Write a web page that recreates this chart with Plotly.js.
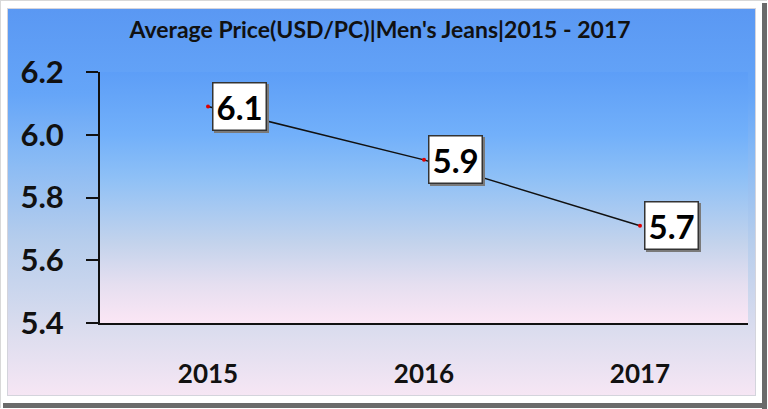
<!DOCTYPE html>
<html>
<head>
<meta charset="utf-8">
<script src="https://cdn.plot.ly/plotly-3.0.1.min.js"></script>
<style>
  html, body { margin:0; padding:0; background:#fff; }
  #wrap { position:absolute; left:0; top:0; width:768px; height:409px; overflow:hidden; background:#fff; }
  #edge { position:absolute; left:0; top:0; width:767px; height:408px; border-left:1px solid #d8d8d8; border-top:1px solid #d8d8d8; box-sizing:border-box; }
  #shadowR { position:absolute; left:762px; top:3px; width:5px; height:406px; background:#6a6a6a; }
  #shadowB { position:absolute; left:3px; top:403px; width:764px; height:5px; background:#6a6a6a; }
  #outer { position:absolute; left:7px; top:8px; width:749px; height:388px; box-sizing:border-box; border:1px solid #d4d4dc;
    background:linear-gradient(to bottom, #5a98f3 0%, #65a5f8 22%, #86b9f5 38%, #b6cdec 60%, #d9dcee 82%, #f6e6f4 100%); }
  #inner { position:absolute; background:linear-gradient(to bottom, #5d9ef7 0%, #72b0fa 25%, #8ec0f6 42%, #c3d3ec 68%, #e6dff0 85%, #fbe6f5 100%); }
  #chart { position:absolute; left:0; top:0; width:768px; height:409px; }
  .annotation rect.bg { filter: drop-shadow(2px 2px 0px #7a7a7a); }
</style>
</head>
<body>
<div id="wrap">
  <div id="edge"></div>
  <div id="shadowR"></div>
  <div id="shadowB"></div>
  <div id="outer"></div>
  <div id="inner"></div>
  <div id="chart"></div>
</div>
<script>
const years = ['2015', '2016', '2017'];
const prices = [6.09, 5.92, 5.71];
const priceLabels = ['6.1', '5.9', '5.7'];
const yTicks = [5.4, 5.6, 5.8, 6.0, 6.2];
const titleText = "Average Price(USD/PC)|Men's Jeans|2015 - 2017";

const FONT = 'Lato, "Open Sans", sans-serif';
const margin = { l: 100, r: 20, t: 72, b: 86, pad: 0 };

const inner = document.getElementById('inner');
inner.style.left = margin.l + 'px';
inner.style.top = margin.t + 'px';
inner.style.width = (768 - margin.l - margin.r) + 'px';
inner.style.height = (409 - margin.t - margin.b) + 'px';

const trace = {
  type: 'scatter',
  mode: 'lines+markers',
  x: years,
  y: prices,
  line: { color: '#111111', width: 1.5 },
  marker: { color: '#e00000', size: 4 },
  hoverinfo: 'skip',
  showlegend: false
};

// category axis: annotation x is the category's serial index
const annotations = years.map((yr, i) => ({
  x: i, y: prices[i], xref: 'x', yref: 'y',
  text: '<b>' + priceLabels[i] + '</b>', showarrow: false,
  xanchor: 'left', yanchor: 'middle', xshift: 4, yshift: 0,
  font: { family: FONT, size: 33, color: '#000000' },
  bgcolor: '#ffffff', bordercolor: '#333333', borderwidth: 1.5, borderpad: 3
}));

const layout = {
  width: 768, height: 409,
  margin: margin,
  paper_bgcolor: 'rgba(0,0,0,0)',
  plot_bgcolor: 'rgba(0,0,0,0)',
  title: {
    text: '<b>' + titleText + '</b>',
    font: { family: FONT, size: 23, color: '#111111' },
    x: 380 / 768, xref: 'container', xanchor: 'center',
    y: 1 - 30 / 409, yref: 'container', yanchor: 'middle'
  },
  xaxis: {
    type: 'category',
    range: [-0.5, 2.5],
    showgrid: false, zeroline: false,
    showline: true, linecolor: '#111111', linewidth: 2,
    ticks: '',
    ticklabelstandoff: 27,
    tickfont: { family: FONT, size: 26, color: '#111111', weight: 'bold' },
    fixedrange: true
  },
  yaxis: {
    range: [5.4, 6.2],
    tickvals: yTicks,
    ticktext: yTicks.map(v => v.toFixed(1)),
    showgrid: false, zeroline: false,
    showline: true, linecolor: '#111111', linewidth: 2,
    ticks: 'outside', ticklen: 12, tickwidth: 2, tickcolor: '#111111',
    ticklabelstandoff: 16,
    tickfont: { family: FONT, size: 31, color: '#111111', weight: 'bold' },
    fixedrange: true
  },
  annotations: annotations,
  showlegend: false
};

Plotly.newPlot('chart', [trace], layout, { displayModeBar: false, staticPlot: true });
</script>
</body>
</html>
